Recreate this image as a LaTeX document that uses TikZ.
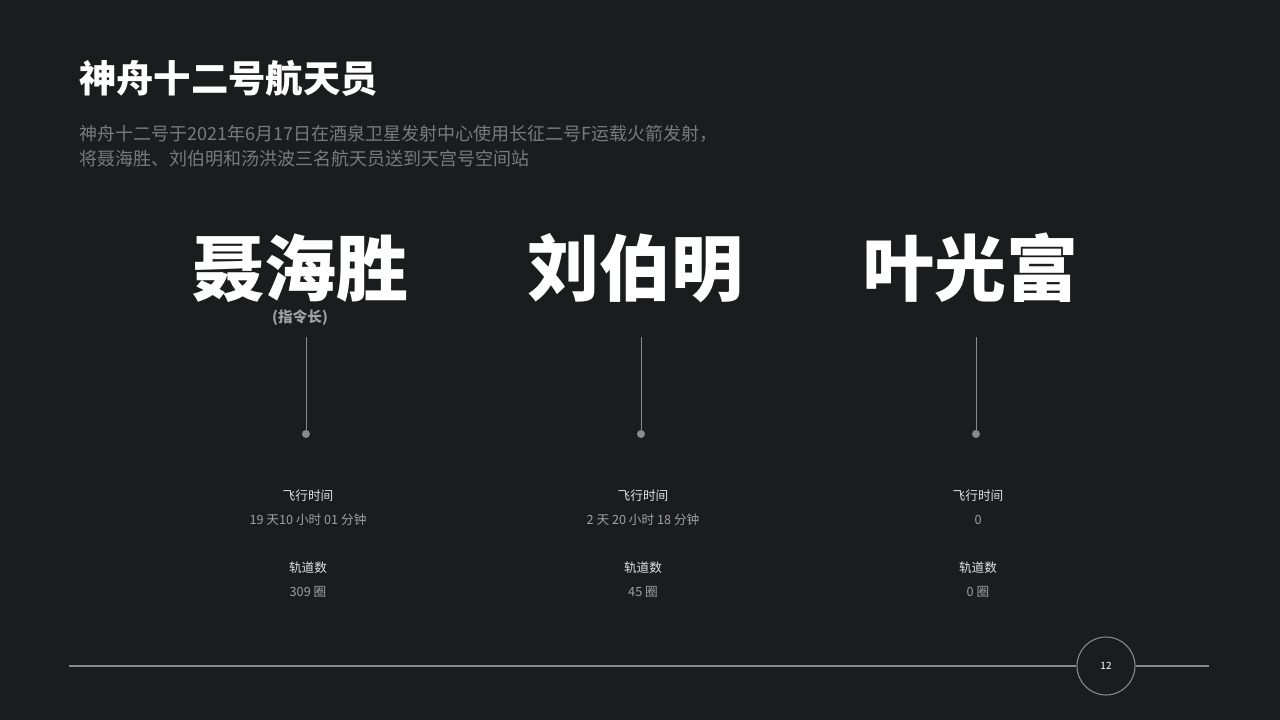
\documentclass[tikz,border=0pt]{standalone}
\usepackage{fontspec}
\setmainfont{Noto Sans CJK SC}
\definecolor{bg}{HTML}{1B1C1E}
\definecolor{sub}{HTML}{7A7A7A}
\definecolor{val}{HTML}{A0A0A0}
\definecolor{lab}{HTML}{E0E0E0}
\definecolor{ln}{HTML}{8A8A8A}
\tikzset{
 bigname/.style={font=\fontsize{54}{60}\selectfont\bfseries, text=white, inner sep=0},
 labtxt/.style={font=\fontsize{9.5}{11}\selectfont, text=lab, inner sep=0},
 valtxt/.style={font=\fontsize{9.5}{11}\selectfont, text=val, inner sep=0},
 stem/.style={draw=ln, line width=0.6pt},
}
\begin{document}
\begin{tikzpicture}[x=0.75pt,y=-0.75pt]
\fill[bg] (0,0) rectangle (1280,720);
\useasboundingbox (0,0) rectangle (1280,720);
\node[anchor=west, inner sep=0, text=white, font=\fontsize{28}{32}\selectfont\bfseries] (title) at (79,78) {神舟十二号航天员};
\node[anchor=north west, inner sep=0, text=sub, align=left, font=\fontsize{13.5}{18.5}\selectfont] (subt) at (79,125) {神舟十二号于2021年6月17日在酒泉卫星发射中心使用长征二号F运载火箭发射，\\将聂海胜、刘伯明和汤洪波三名航天员送到天宫号空间站};
\foreach \i/\x/\n/\t/\o in {a/300/聂海胜/19 天10 小时 01 分钟/309 圈, b/635/刘伯明/2 天 20 小时 18 分钟/45 圈, c/970/叶光富/0/0 圈}{
 \node[bigname] (n\i) at (\x,268) {\n};
 \coordinate (t\i) at (\x+6,337);
 \node[circle, fill=ln, inner sep=0, minimum size=6pt] (d\i) at (\x+6,434) {};
 \draw[stem] (t\i) -- (d\i);
 \node[labtxt] (l1\i) at (\x+8,496) {飞行时间};
 \node[valtxt] (v1\i) at (\x+8,520) {\t};
 \node[labtxt] (l2\i) at (\x+8,568) {轨道数};
 \node[valtxt] (v2\i) at (\x+8,592) {\o};
}
\node[inner sep=0, text=val, font=\fontsize{11}{13}\selectfont\bfseries] (cmd) at (300,318) {(指令长)};
\node[circle, draw=ln, line width=0.8pt, minimum size=43.5pt, inner sep=0, text=white, font=\fontsize{7.5}{9}\selectfont] (pg) at (1106,666) {12};
\coordinate (L) at (69,666); \coordinate (R) at (1209,666);
\draw[draw=ln, line width=0.8pt] (L) -- (pg.west) (pg.east) -- (R);
\end{tikzpicture}
\end{document}
